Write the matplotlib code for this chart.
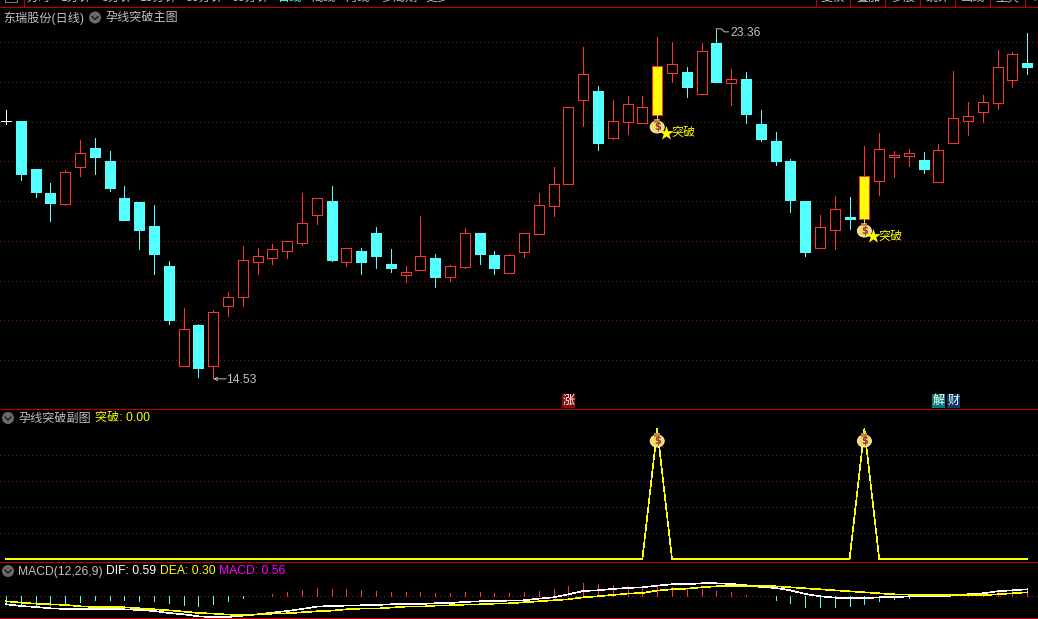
import matplotlib
matplotlib.use("Agg")
import matplotlib.pyplot as plt
from matplotlib.patches import Ellipse, Rectangle

plt.rcParams['font.family'] = ['Liberation Sans', 'Noto Sans CJK SC', 'DejaVu Sans']

# ---------- data ----------
opens = [21.03, 21.03, 19.81, 19.21, 18.93, 19.87, 20.35, 20.02, 19.08, 18.98, 18.37, 17.36, 14.83, 15.87, 14.83,
         16.35, 16.58, 17.46, 17.56, 17.74, 17.94, 18.65, 19.00, 17.46, 17.74, 18.20, 17.41, 17.13, 17.26, 17.56,
         17.08, 17.33, 18.20, 17.64, 17.18, 17.71, 18.17, 18.88, 19.43, 21.56, 21.79, 20.60, 21.00, 20.98, 21.18,
         22.24, 22.27, 21.71, 23.00, 21.99, 22.09, 20.95, 20.52, 20.02, 19.00, 17.82, 18.27, 18.60, 18.55, 19.51,
         20.12, 20.14, 20.04, 19.49, 20.47, 21.03, 21.26, 21.48, 22.07, 22.50]
highs = [21.31, 21.03, 19.81, 19.46, 19.79, 20.55, 20.60, 20.27, 19.38, 18.98, 18.90, 17.49, 16.30, 15.89, 16.25,
         16.70, 17.87, 17.82, 17.92, 17.99, 19.21, 19.08, 19.38, 17.82, 17.82, 18.35, 17.79, 17.36, 18.63, 17.66,
         17.39, 18.32, 18.20, 17.74, 17.66, 18.20, 19.21, 19.87, 21.38, 22.90, 21.91, 21.56, 21.66, 21.66, 23.15,
         23.03, 22.39, 23.00, 23.36, 22.34, 22.27, 21.31, 20.75, 20.07, 19.00, 18.65, 19.13, 19.11, 20.40, 20.73,
         20.27, 20.32, 20.25, 20.45, 22.29, 21.51, 21.69, 22.83, 22.77, 23.26]
lows = [20.95, 19.54, 19.11, 18.50, 18.90, 19.64, 19.69, 19.26, 18.52, 17.79, 17.16, 15.89, 14.83, 14.55, 14.53,
        16.10, 16.35, 17.16, 17.41, 17.56, 17.89, 18.42, 17.49, 17.36, 17.16, 17.31, 17.21, 16.96, 17.26, 16.83,
        16.98, 17.31, 17.41, 17.16, 17.18, 17.59, 18.17, 18.63, 19.43, 20.90, 20.30, 20.57, 20.70, 20.98, 21.18,
        22.02, 21.64, 21.71, 22.02, 21.43, 20.98, 20.52, 19.92, 18.73, 17.61, 17.82, 17.79, 18.30, 18.55, 19.16,
        19.61, 19.89, 19.71, 19.49, 20.47, 20.67, 21.00, 21.33, 21.89, 22.22]
closes = [21.03, 19.69, 19.23, 18.95, 19.74, 20.22, 20.12, 19.33, 18.52, 18.27, 17.66, 16.00, 15.77, 14.78, 16.20,
          16.58, 17.51, 17.61, 17.79, 17.99, 18.45, 19.08, 17.51, 17.82, 17.46, 17.61, 17.31, 17.21, 17.61, 17.08,
          17.36, 18.20, 17.66, 17.31, 17.64, 18.20, 18.90, 19.43, 21.38, 22.22, 20.47, 21.03, 21.46, 21.38, 22.42,
          22.47, 21.89, 22.80, 22.02, 22.09, 21.21, 20.57, 20.02, 19.03, 17.71, 18.35, 18.80, 18.55, 19.64, 20.32,
          20.17, 20.22, 19.81, 20.30, 21.10, 21.16, 21.51, 22.39, 22.72, 22.39]
breakout_days = [44, 58]
price_grid = [23.03, 22.02, 21.00, 20.02, 19.00, 17.99, 16.98, 16.00, 14.98]

sub_signal = [1 if i in breakout_days else 0 for i in range(len(closes))]
sub_grid = [0.2, 0.4, 0.6, 0.8]

dif = [-0.72, -0.87, -0.96, -1.08, -1.14, -1.14, -1.14, -1.14, -1.17, -1.23, -1.32, -1.50, -1.62, -1.80, -1.89,
       -1.86, -1.74, -1.62, -1.47, -1.32, -1.14, -0.93, -0.87, -0.84, -0.81, -0.78, -0.72, -0.72, -0.69, -0.63,
       -0.60, -0.51, -0.45, -0.42, -0.39, -0.36, -0.21, -0.09, 0.18, 0.48, 0.54, 0.66, 0.75, 0.81, 0.96,
       1.08, 1.08, 1.17, 1.17, 1.11, 0.99, 0.84, 0.75, 0.54, 0.21, 0.00, -0.12, -0.18, -0.18, -0.09,
       -0.09, 0.00, 0.03, 0.03, 0.06, 0.18, 0.27, 0.45, 0.54, 0.63]
dea = [-0.45, -0.57, -0.66, -0.72, -0.78, -0.90, -0.96, -0.99, -0.99, -1.08, -1.17, -1.26, -1.38, -1.50, -1.56,
       -1.65, -1.68, -1.62, -1.56, -1.53, -1.44, -1.35, -1.29, -1.17, -1.11, -1.11, -1.02, -0.93, -0.93, -0.84,
       -0.81, -0.75, -0.72, -0.66, -0.63, -0.54, -0.45, -0.36, -0.27, -0.09, 0.00, 0.12, 0.24, 0.30, 0.51,
       0.63, 0.69, 0.81, 0.90, 0.90, 0.90, 0.90, 0.90, 0.81, 0.72, 0.63, 0.54, 0.45, 0.36, 0.27,
       0.18, 0.15, 0.09, 0.09, 0.09, 0.09, 0.09, 0.18, 0.27, 0.36]
macd = [-0.51, -0.66, -0.78, -0.78, -0.69, -0.51, -0.33, -0.33, -0.33, -0.45, -0.42, -0.60, -0.75, -0.87, -0.69,
        -0.42, -0.15, 0.03, 0.21, 0.39, 0.57, 0.75, 0.66, 0.66, 0.57, 0.48, 0.39, 0.39, 0.39, 0.30,
        0.30, 0.39, 0.39, 0.30, 0.30, 0.39, 0.48, 0.66, 0.93, 1.20, 1.11, 1.02, 0.93, 0.84, 0.93,
        0.84, 0.66, 0.66, 0.48, 0.39, 0.12, 0.00, -0.33, -0.60, -0.96, -0.96, -0.96, -0.87, -0.69, -0.42,
        -0.24, -0.15, 0.00, 0.00, 0.03, 0.21, 0.30, 0.48, 0.57, 0.57]

top_tabs = [("分时", 39), ("1分钟", 76), ("5分钟", 117), ("15分钟", 158), ("30分钟", 204), ("60分钟", 250),
            ("日线", 290), ("周线", 324), ("月线", 358), ("多周期", 399), ("更多", 438),
            ("复权", 833), ("叠加", 868), ("多股", 903), ("统计", 938), ("画线", 973), ("工具", 1008)]
top_separators = [24, 816, 850, 885, 920, 955, 990, 1025]

# ---------- colours ----------
BG = '#000000'
RED = '#FF3232'
CYAN = '#54FFFF'
YEL = '#FFFF00'
GREY = '#C0C0C0'
FRAME = '#C00000'
DOT = '#8A1010'
MAG = '#FF00FF'

W, H = 1038, 619
fig = plt.figure(figsize=(W / 100, H / 100), dpi=100, facecolor=BG)
X0 = 6.0


def make_axes(y_top, y_bottom):
    ax = fig.add_axes([0, (H - y_bottom) / H, 1, (y_bottom - y_top) / H])
    ax.set_facecolor(BG)
    ax.set_xticks([])
    ax.set_yticks([])
    for s in ax.spines.values():
        s.set_visible(False)
    ax.set_xlim((0 - X0) / 14.8, (W - X0) / 14.8)
    return ax


days = list(range(len(closes)))
LW = 0.7
THIN = 0.45
DOTS = (0, (1, 4))

# ---------- main panel ----------
ax = make_axes(8, 409)
ax.set_ylim(24.09 - 0.0253 * 409, 24.09 - 0.0253 * 8)
for g in price_grid:
    ax.axhline(g, color=DOT, lw=LW, ls=DOTS, antialiased=False, zorder=1)
for i in days:
    o, h, l, c = opens[i], highs[i], lows[i], closes[i]
    col = RED if c > o else (CYAN if c < o else '#FFFFFF')
    face = YEL if i in breakout_days else (BG if c > o else col)
    ax.vlines(i, l, h, color=col, lw=LW, antialiased=False, zorder=2)
    ax.bar(i, c - o, bottom=o, width=10 / 14.8, facecolor=face, edgecolor=col,
           linewidth=LW, antialiased=False, zorder=3)

# ---------- sub panel ----------
ax2 = make_axes(409, 562)
ax2.set_ylim(-3 / 130, 1 + 20 / 130)
for g in sub_grid:
    ax2.axhline(g, color=DOT, lw=LW, ls=DOTS, antialiased=False, zorder=1)
ax2.plot(days, sub_signal, color=YEL, lw=THIN, antialiased=False, zorder=3)

# ---------- MACD panel ----------
ax3 = make_axes(562, 618)
ax3.set_ylim(-21.7 * 0.09, 34.3 * 0.09)
ax3.axhline(0, color=DOT, lw=LW, ls=DOTS, antialiased=False, zorder=1)
for i, v in zip(days, macd):
    if v != 0:
        ax3.vlines(i, 0, v, color=RED if v > 0 else CYAN, lw=LW, antialiased=False, zorder=2)
ax3.plot(days, dif, color='#FFFFFF', lw=THIN, antialiased=False, zorder=3)
ax3.plot(days, dea, color=YEL, lw=THIN, antialiased=False, zorder=4)

# ---------- pixel overlay ----------
ov = fig.add_axes([0, 0, 1, 1], facecolor='none')
ov.set_xlim(0, W)
ov.set_ylim(H, 0)
ov.axis('off')
fig.canvas.draw()


def to_px(axis, x, y):
    dx, dy = axis.transData.transform((x, y))
    return dx, H - dy


def label(x, y, s, color=GREY, size=8.7, ha='left', **kw):
    ov.text(x, y, s, color=color, fontsize=size, ha=ha, va='center', **kw)


# frame lines
for y in (7, 409, 562, 618):
    ov.plot([0, W], [y, y], color=FRAME, lw=LW, antialiased=False, zorder=1)
for x in top_separators:
    ov.plot([x, x], [0, 7], color=FRAME, lw=LW, antialiased=False, zorder=1)
ov.add_patch(Rectangle((5, -2), 12, 4, facecolor='none', edgecolor='#808080', lw=0.7))

# clipped toolbar
for name, x in top_tabs:
    label(x, -2, name, color=CYAN if name == "日线" else GREY, ha='center')
label(1032, -2, "帮", ha='left')


def chevron(x, y):
    ov.add_patch(Ellipse((x, y), 12, 12, facecolor='#6A6A6A', edgecolor='none', zorder=3))
    ov.plot([x - 3, x, x + 3], [y - 1, y + 2, y - 1], color='#111111', lw=0.9, zorder=4)


# headers
label(3, 18, "东瑞股份(日线)")
chevron(95, 17.5)
label(105, 18, "孕线突破主图")
chevron(8, 418)
label(18, 418.5, "孕线突破副图")
label(95, 418.5, "突破: 0.00", color=YEL)
chevron(8, 571)
label(18, 571.5, "MACD(12,26,9)")
label(106, 571.5, "DIF: 0.59", color='#FFFFFF')
label(160, 571.5, "DEA: 0.30", color=YEL)
label(219, 571.5, "MACD: 0.56", color=MAG)


def bag(x, y):
    ov.add_patch(Ellipse((x, y + 1), 14, 12, facecolor='#F6D96B', edgecolor='#FFF2B0', lw=0.7, zorder=6))
    ov.add_patch(Rectangle((x - 3, y - 7), 6, 3.5, facecolor='#C9803A', edgecolor='none', zorder=7))
    ov.plot([x, x], [y - 11, y - 7], color='#F6D96B', lw=0.7, zorder=7)
    ov.text(x, y + 1, "$", color='#8A3A3A', fontsize=7, fontweight='bold',
            ha='center', va='center', zorder=8, family='DejaVu Sans')


for d in breakout_days:
    px, py = to_px(ax, d, lows[d])
    bag(px, py + 11)
    ov.scatter([px + 9], [py + 17.5], marker='*', s=120, color=YEL, linewidths=0, zorder=6)
    label(px + 14, py + 18, "突破", color=YEL, zorder=6)
    sx, sy = to_px(ax2, d, 1)
    bag(sx, sy + 11)

# extreme markers
low_i = lows.index(min(lows))
lx, ly = to_px(ax, low_i, lows[low_i])
ov.annotate("", xy=(lx, ly + 1), xytext=(lx + 13, ly + 1),
            arrowprops=dict(arrowstyle='->', color=GREY, lw=0.7, shrinkA=0, shrinkB=0, mutation_scale=6))
label(lx + 13, ly + 2, f"{lows[low_i]:.2f}")
high_i = highs.index(max(highs))
hx, hy = to_px(ax, high_i, highs[high_i])
ov.plot([hx, hx + 5, hx + 8, hx + 12], [hy, hy, hy + 3, hy + 3], color=GREY, lw=0.7, zorder=6)
ov.plot([hx, hx], [hy, hy + 5], color=GREY, lw=0.7, zorder=6)
label(hx + 14, hy + 4, f"{highs[high_i]:.2f}")

# news badges
for x, s, c in ((562, "涨", '#8B0A0A'), (932, "解", '#007B7B'), (947, "财", '#0A3A6A')):
    ov.add_patch(Rectangle((x, 394), 13, 14, facecolor=c, edgecolor='none', zorder=3))
    ov.text(x + 6.5, 401, s, color='#FFFFFF', fontsize=8.7, ha='center', va='center', zorder=4)

fig.savefig("out.png", dpi=100, facecolor=BG)
